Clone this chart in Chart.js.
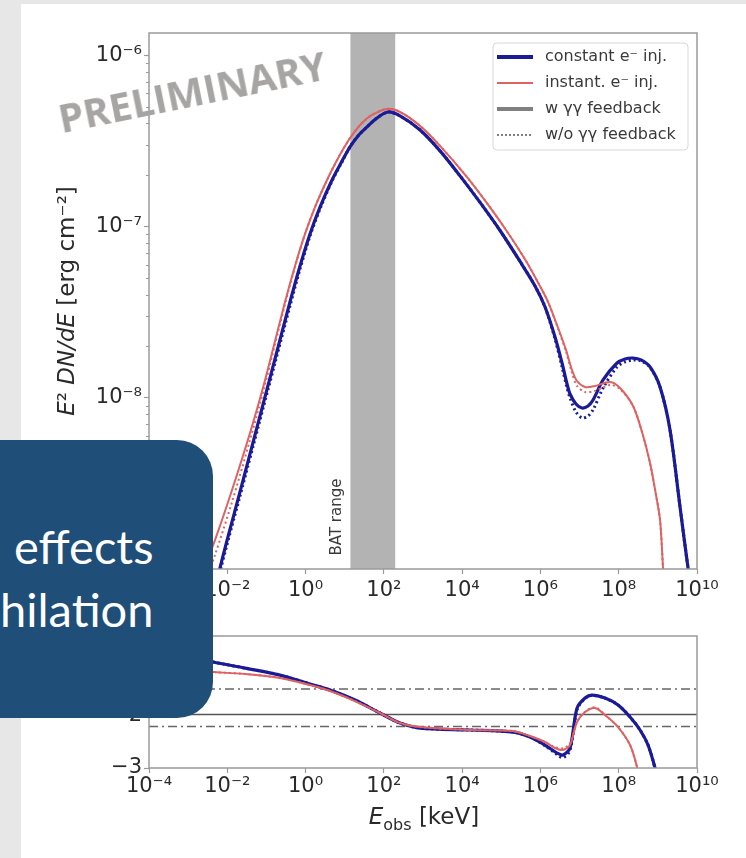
<!DOCTYPE html>
<html><head><meta charset="utf-8">
<script src="https://cdn.jsdelivr.net/npm/chart.js@4.4.1/dist/chart.umd.min.js"></script>
<style>
html,body{margin:0;padding:0;width:746px;height:858px;overflow:hidden;background:#e7e7e7;}
#slide{position:absolute;left:21px;top:4px;right:0;bottom:0;background:#fff;}
#topWrap{position:absolute;left:0;top:0;width:746px;height:610px;}
#botWrap{position:absolute;left:0;top:610px;width:746px;height:248px;}
#prelim{position:absolute;left:192px;top:91px;transform:translate(-50%,-50%) rotate(-11.5deg);white-space:nowrap;font:700 40px "Open Sans";color:#a7a4a4;}
#box{position:absolute;left:-40px;top:440px;width:253px;height:278px;background:#1f4e79;border-radius:0 36px 36px 0;}
.bt{position:absolute;color:#fff;font:47px Lato;line-height:47px;white-space:nowrap;}
</style></head>
<body>
<div id="slide"></div>
<div id="topWrap"><canvas id="top" width="746" height="610"></canvas></div>
<div id="botWrap"><canvas id="bot" width="746" height="248"></canvas></div>
<div id="prelim">PRELIMINARY</div>
<div id="box"></div>
<div class="bt" style="left:14px;top:523px;">effects</div>
<div class="bt" style="left:0px;top:586px;">hilation</div>
<script>
// ---------- data (log10 of E [keV] and log10 of E^2 dN/dE [erg cm^-2]) ----------
const xTickValues = [1e-4,1e-2,1,1e2,1e4,1e6,1e8,1e10];
const xTickLabels = ['10⁻⁴','10⁻²','10⁰','10²','10⁴','10⁶','10⁸','10¹⁰'];
const yTopTickValues = [1e-9,1e-8,1e-7,1e-6];
const yTopTickLabels = ['10⁻⁹','10⁻⁸','10⁻⁷','10⁻⁶'];
const yBotTickValues = [-3,-2,-1];
const yBotTickLabels = ['−3','−2','−1'];
const batRange = [14,195];
const legendLabels = ['constant e⁻ inj.','instant. e⁻ inj.','w γγ feedback','w/o γγ feedback'];

const blueLogE = [-4.0,-2.697,-2.186,-1.675,-1.164,-0.781,-0.398,-0.142,0.113,0.369,0.676,0.905,1.135,1.340,1.570,1.825,2.106,2.413,2.924,3.435,3.946,4.457,4.968,5.479,5.862,6.118,6.373,6.552,6.680,6.756,6.909,7.063,7.216,7.344,7.600,7.957,8.162,8.366,8.570,8.800,9.056,9.311,9.567,9.771,9.975];
const blueSolidLogF = [-10.64,-9.532,-8.994,-8.550,-8.106,-7.773,-7.440,-7.230,-7.043,-6.886,-6.728,-6.629,-6.535,-6.471,-6.418,-6.366,-6.331,-6.354,-6.436,-6.558,-6.704,-6.859,-7.023,-7.204,-7.347,-7.470,-7.645,-7.797,-7.919,-7.978,-8.036,-8.060,-8.048,-8.013,-7.896,-7.797,-7.773,-7.768,-7.779,-7.820,-7.937,-8.188,-8.638,-8.994,-9.298];
const blueDotLogF = [-10.67,-9.555,-9.018,-8.574,-8.130,-7.797,-7.464,-7.248,-7.055,-6.897,-6.734,-6.634,-6.535,-6.471,-6.418,-6.366,-6.331,-6.354,-6.436,-6.558,-6.704,-6.859,-7.023,-7.204,-7.347,-7.470,-7.657,-7.820,-7.943,-8.001,-8.083,-8.118,-8.106,-8.071,-7.943,-7.820,-7.791,-7.779,-7.785,-7.822,-7.937,-8.188,-8.638,-8.994,-9.298];
const redLogE = [-4.0,-2.569,-2.314,-1.879,-1.420,-1.062,-0.525,-0.270,-0.014,0.241,0.548,0.778,1.008,1.212,1.442,1.697,2.081,2.413,2.924,3.435,4.099,4.610,5.121,5.632,6.015,6.194,6.424,6.654,6.807,6.935,7.139,7.395,7.778,8.034,8.366,8.596,8.800,8.953,9.056,9.132,9.209];
const redSolidLogF = [-9.765,-8.977,-8.831,-8.539,-8.206,-7.920,-7.440,-7.230,-7.043,-6.886,-6.728,-6.623,-6.529,-6.459,-6.395,-6.348,-6.313,-6.331,-6.412,-6.529,-6.704,-6.856,-7.020,-7.201,-7.359,-7.440,-7.575,-7.721,-7.838,-7.902,-7.937,-7.931,-7.908,-7.943,-8.048,-8.200,-8.381,-8.568,-8.714,-8.994,-9.298];
const redDotLogF = [-9.94,-9.082,-8.918,-8.609,-8.247,-7.945,-7.452,-7.236,-7.043,-6.886,-6.728,-6.623,-6.529,-6.459,-6.395,-6.348,-6.313,-6.331,-6.412,-6.529,-6.704,-6.856,-7.020,-7.201,-7.359,-7.440,-7.580,-7.730,-7.855,-7.931,-7.966,-7.960,-7.925,-7.949,-8.048,-8.200,-8.381,-8.568,-8.714,-8.994,-9.298];

// lower panel
const blueRatioLogE = [-4.0,-3.21,-2.365,-1.547,-0.653,0.113,0.624,1.263,1.902,2.413,2.924,4.201,5.3,5.734,6.117,6.424,6.577,6.756,6.935,7.14,7.318,7.651,7.983,8.29,8.545,8.749,8.928,9.056];
const blueRatio = [-0.72,-0.81,-0.96,-1.077,-1.212,-1.385,-1.5,-1.692,-1.942,-2.135,-2.231,-2.269,-2.308,-2.404,-2.558,-2.712,-2.75,-2.615,-1.85,-1.654,-1.596,-1.654,-1.788,-2.019,-2.269,-2.558,-3.0,-3.42];
const blueRatioDot = [-0.72,-0.81,-0.96,-1.077,-1.212,-1.385,-1.5,-1.692,-1.942,-2.135,-2.231,-2.269,-2.308,-2.404,-2.57,-2.74,-2.8,-2.66,-1.88,-1.66,-1.6,-1.654,-1.788,-2.019,-2.269,-2.558,-3.0,-3.42];
const redRatioLogE = [-4.0,-3.21,-2.365,-1.547,-0.653,0.113,0.624,1.263,1.902,2.413,2.924,4.201,5.3,5.734,6.117,6.373,6.577,6.756,6.935,7.14,7.395,7.651,7.983,8.29,8.468,8.596];
const redRatio = [-1.077,-1.115,-1.154,-1.192,-1.269,-1.404,-1.519,-1.712,-1.942,-2.135,-2.212,-2.269,-2.288,-2.385,-2.5,-2.615,-2.654,-2.558,-2.115,-1.923,-1.846,-1.981,-2.212,-2.558,-2.981,-3.42];
const redRatioDot = [-1.077,-1.115,-1.154,-1.192,-1.269,-1.404,-1.519,-1.712,-1.942,-2.135,-2.212,-2.269,-2.288,-2.385,-2.5,-2.6,-2.62,-2.53,-2.115,-1.92,-1.83,-1.981,-2.212,-2.558,-2.981,-3.42];
const refSolid = [-1.97];
const refDashed = [-1.48,-2.2];

// ---------- styling ----------
const BLUE = '#1b1b98', RED = '#df6262', AXC = '#9a9a9a', TXT = '#2a2a2a';
Chart.defaults.font.family = 'DejaVu Sans';
Chart.defaults.color = TXT;

const pts = (le, lf) => le.map((e,i)=>({x:Math.pow(10,e), y:Math.pow(10,lf[i])}));
const ptsLin = (le, v) => le.map((e,i)=>({x:Math.pow(10,e), y:v[i]}));
const line = (data,color,w,dash)=>({data,borderColor:color,borderWidth:w,borderDash:dash||[],pointRadius:0,tension:0.3,fill:false});

function lookup(vals, labels, v){
  for(let i=0;i<vals.length;i++){ if(Math.abs(vals[i]-v) <= Math.abs(vals[i])*1e-6 + 1e-12) return labels[i]; }
  return '';
}

const framePlugin = {id:'frame', afterDatasetsDraw(chart){
  const {ctx, chartArea:a} = chart; ctx.save(); ctx.strokeStyle=AXC; ctx.lineWidth=1.5;
  ctx.strokeRect(a.left,a.top,a.right-a.left,a.bottom-a.top); ctx.restore();
}};

function drawRuns(ctx, runs, cx, cy, rot){
  ctx.save(); ctx.translate(cx,cy); ctx.rotate(rot); ctx.fillStyle=TXT; ctx.textBaseline='alphabetic';
  let total=0; runs.forEach(r=>{ctx.font=r.f; r.w=ctx.measureText(r.t).width; total+=r.w;});
  let x=-total/2;
  runs.forEach(r=>{ctx.font=r.f; ctx.fillText(r.t,x,(r.dy||0)); x+=r.w;});
  ctx.restore();
}

const topExtras = {id:'topExtras',
  beforeDatasetsDraw(chart){
    const {ctx, chartArea:a, scales} = chart;
    const x0 = scales.x.getPixelForValue(batRange[0]), x1 = scales.x.getPixelForValue(batRange[1]);
    ctx.save(); ctx.fillStyle='#b3b3b3'; ctx.fillRect(x0,a.top,x1-x0,a.bottom-a.top);
    ctx.translate(x0-13, a.bottom-52); ctx.rotate(-Math.PI/2);
    ctx.font='15px "DejaVu Sans"'; ctx.fillStyle='#3a3a3a'; ctx.textAlign='center'; ctx.textBaseline='middle';
    ctx.fillText('BAT range',0,0); ctx.restore();
    ctx.save(); ctx.strokeStyle=AXC; ctx.lineWidth=1;
    for(let d=-10; d<=-6; d++){ for(let m=2;m<=9;m++){ const v=m*Math.pow(10,d);
      if(v<scales.y.min||v>scales.y.max) continue; const y=Math.round(scales.y.getPixelForValue(v))+0.5;
      ctx.beginPath(); ctx.moveTo(a.left-3,y); ctx.lineTo(a.left,y); ctx.stroke(); } }
    ctx.restore();
  },
  afterDraw(chart){
    const {ctx} = chart;
    const F='23px "DejaVu Sans"', FI='italic 23px "DejaVu Sans"';
    drawRuns(ctx,[{t:'E',f:FI},{t:'²',f:F},{t:' ',f:F},{t:'DN/dE',f:FI},{t:' [erg cm',f:F},{t:'⁻²',f:F},{t:']',f:F}],74,301,-Math.PI/2);
    ctx.save();
    const bx=493, by=43, bw=195, bh=107, r=4;
    ctx.beginPath(); ctx.moveTo(bx+r,by); ctx.arcTo(bx+bw,by,bx+bw,by+bh,r); ctx.arcTo(bx+bw,by+bh,bx,by+bh,r);
    ctx.arcTo(bx,by+bh,bx,by,r); ctx.arcTo(bx,by,bx+bw,by,r); ctx.closePath();
    ctx.fillStyle='rgba(255,255,255,0.85)'; ctx.fill(); ctx.strokeStyle='#d8d8d8'; ctx.lineWidth=1; ctx.stroke();
    const items=[{c:BLUE,w:4,d:[]},{c:RED,w:2,d:[]},{c:'#808080',w:4,d:[]},{c:'#555',w:1.5,d:[2,2]}];
    const ys=[57,83,109,135];
    ctx.font='16px "DejaVu Sans"'; ctx.textBaseline='middle'; ctx.textAlign='left';
    items.forEach((it,i)=>{
      ctx.beginPath(); ctx.strokeStyle=it.c; ctx.lineWidth=it.w; ctx.setLineDash(it.d);
      ctx.moveTo(497,ys[i]); ctx.lineTo(533,ys[i]); ctx.stroke(); ctx.setLineDash([]);
      ctx.fillStyle='#3a3a3a'; ctx.fillText(legendLabels[i],545,ys[i]);
    });
    ctx.restore();
  }
};

const botExtras = {id:'botExtras', afterDraw(chart){
  const {ctx} = chart;
  drawRuns(ctx,[{t:'E',f:'italic 23px "DejaVu Sans"'},{t:'obs',f:'16px "DejaVu Sans"',dy:6},{t:' [keV]',f:'23px "DejaVu Sans"'}],424,214,0);
}};

const xScale = (h, pad) => ({
  type:'logarithmic', min:1e-4, max:1e10,
  afterBuildTicks:s=>{ s.ticks = xTickValues.map(v=>({value:v})); },
  afterFit:s=>{ s.height=h; },
  ticks:{autoSkip:false, maxRotation:0, padding:pad, font:{size:21}, color:TXT,
    callback:(v)=>lookup(xTickValues,xTickLabels,v)},
  grid:{drawOnChartArea:false, drawTicks:true, tickLength:5, tickColor:AXC, tickWidth:1.2},
  border:{display:false}
});

new Chart(document.getElementById('top'), {
  type:'line',
  data:{datasets:[
    line(pts(redLogE,redDotLogF),RED,2,[2,3]),
    line(pts(redLogE,redSolidLogF),RED,2),
    line(pts(blueLogE,blueDotLogF),BLUE,3,[2,3]),
    line(pts(blueLogE,blueSolidLogF),BLUE,3.2)
  ]},
  options:{responsive:false, animation:false, devicePixelRatio:1,
    layout:{padding:{left:0,top:33,right:49,bottom:0}},
    plugins:{legend:{display:false}, tooltip:{enabled:false}},
    scales:{
      x:xScale(41,4),
      y:{type:'logarithmic', min:1e-9, max:1.35e-6,
        afterBuildTicks:s=>{ s.ticks = yTopTickValues.map(v=>({value:v})); },
        afterFit:s=>{ s.width=149; },
        ticks:{autoSkip:false, padding:2, font:{size:21}, color:TXT, callback:(v)=>lookup(yTopTickValues,yTopTickLabels,v)},
        grid:{drawOnChartArea:false, drawTicks:true, tickLength:5, tickColor:AXC, tickWidth:1.2},
        border:{display:false}}
    }
  },
  plugins:[topExtras, framePlugin]
});

const hline = (v,color,w,dash)=>({data:[{x:1e-4,y:v},{x:1e10,y:v}],borderColor:color,borderWidth:w,borderDash:dash||[],pointRadius:0,fill:false});

new Chart(document.getElementById('bot'), {
  type:'line',
  data:{datasets:[
    line(ptsLin(redRatioLogE,redRatioDot),RED,2,[2,3]),
    line(ptsLin(redRatioLogE,redRatio),RED,2),
    line(ptsLin(blueRatioLogE,blueRatioDot),BLUE,3,[2,3]),
    line(ptsLin(blueRatioLogE,blueRatio),BLUE,3.2),
    hline(refSolid[0],'#555',1.5),
    hline(refDashed[0],'#666',1.5,[9,4,2,4]),
    hline(refDashed[1],'#666',1.5,[9,4,2,4])
  ]},
  options:{responsive:false, animation:false, devicePixelRatio:1,
    layout:{padding:{left:0,top:26,right:49,bottom:0}},
    plugins:{legend:{display:false}, tooltip:{enabled:false}},
    scales:{
      x:xScale(90,1),
      y:{type:'linear', min:-3, max:-0.46,
        afterBuildTicks:s=>{ s.ticks = yBotTickValues.map(v=>({value:v})); },
        afterFit:s=>{ s.width=149; },
        ticks:{autoSkip:false, padding:2, font:{size:21}, color:TXT, callback:(v)=>lookup(yBotTickValues,yBotTickLabels,v)},
        grid:{drawOnChartArea:false, drawTicks:true, tickLength:5, tickColor:AXC, tickWidth:1.2},
        border:{display:false}}
    }
  },
  plugins:[botExtras, framePlugin]
});
</script>
</body></html>
